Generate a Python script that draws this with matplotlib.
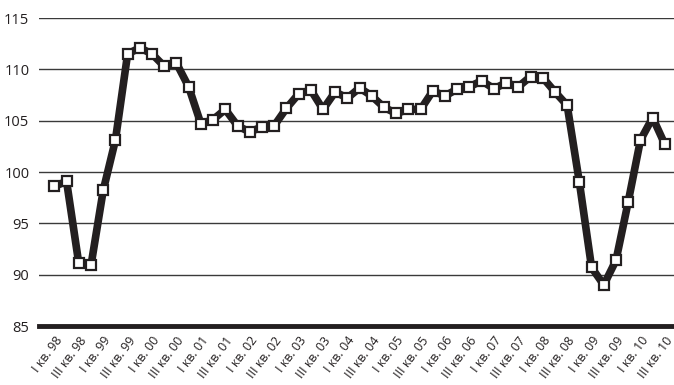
import matplotlib
matplotlib.use("Agg")
import matplotlib.pyplot as plt
import numpy as np

plt.rcParams['font.family'] = ['Open Sans', 'DejaVu Sans']

# индекс по кварталам, I кв. 98 .. III кв. 10
values = [98.6, 99.1, 91.1, 90.9, 98.2, 103.1, 111.5, 112.1, 111.5, 110.3,
          110.6, 108.3, 104.7, 105.1, 106.1, 104.5, 103.9, 104.4, 104.5, 106.2,
          107.6, 108.0, 106.1, 107.8, 107.2, 108.2, 107.4, 106.3, 105.7, 106.1,
          106.1, 107.9, 107.4, 108.1, 108.3, 108.9, 108.1, 108.7, 108.3, 109.3,
          109.2, 107.8, 106.5, 99.0, 90.7, 89.0, 91.4, 97.1, 103.1, 105.3,
          102.7]
years = ['98', '99', '00', '01', '02', '03', '04', '05', '06', '07', '08', '09', '10']
quarters = ['I', 'II', 'III', 'IV']

labels = []
for y in years:
    for q in quarters:
        labels.append(q + ' кв. ' + y)
labels = labels[:len(values)]

x = np.arange(len(values))

fig = plt.figure(figsize=(6.74, 3.85), dpi=100)
ax = fig.add_axes([0.058, 0.1532, 0.942, 0.80])

for v in [90, 95, 100, 105, 110, 115]:
    ax.axhline(v, color='#3a3a3a', lw=1.0, zorder=1)
ax.axhline(85, color='#231f20', lw=3.5, zorder=2, clip_on=False)

ax.plot(x, values, color='#231f20', lw=5.5, solid_joinstyle='round', zorder=3,
        marker='s', markersize=7.5, markerfacecolor='white',
        markeredgecolor='#231f20', markeredgewidth=1.6)

ax.set_ylim(85, 115)
ax.set_xlim(-1.25, 50.75)
ax.set_yticks([85, 90, 95, 100, 105, 110, 115])
ax.set_yticklabels(['85', '90', '95', '100', '105', '110', '115'], fontsize=10.5, color='#231f20')
ax.set_xticks(x[::2])
ax.set_xticklabels(labels[::2], rotation=53, ha='right', rotation_mode='anchor',
                   fontsize=9, color='#231f20')
ax.tick_params(axis='both', length=0)
ax.tick_params(axis='y', pad=7)
ax.tick_params(axis='x', pad=6)
for s in ax.spines.values():
    s.set_visible(False)

fig.savefig('out.png', dpi=100)
